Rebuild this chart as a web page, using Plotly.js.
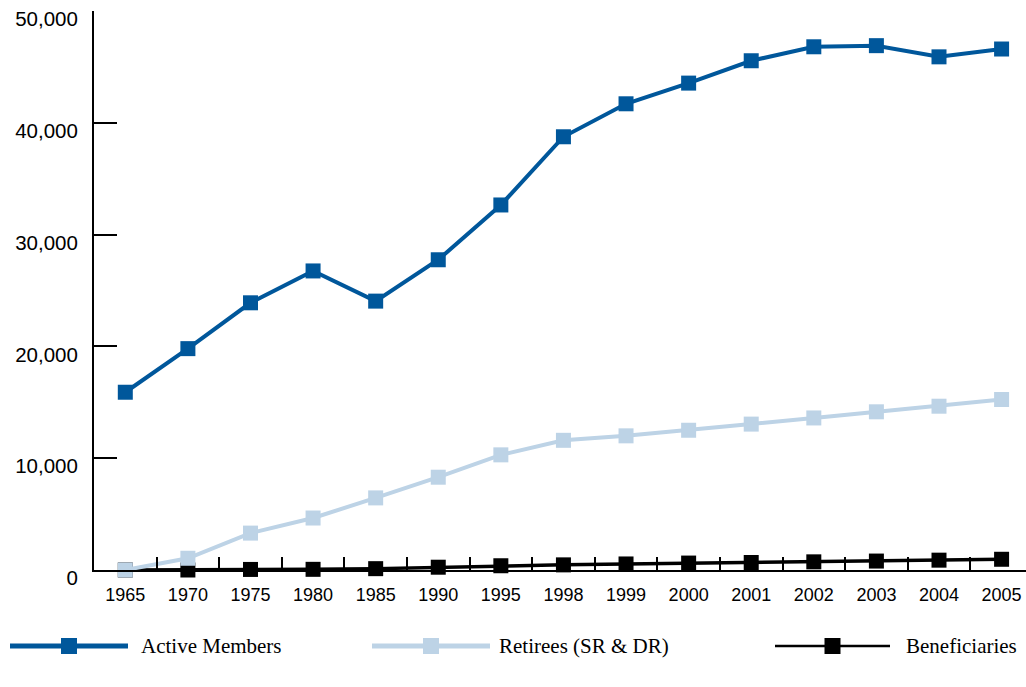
<!DOCTYPE html>
<html>
<head>
<meta charset="utf-8">
<script src="https://cdn.plot.ly/plotly-3.0.1.min.js"></script>
<style>html,body{margin:0;padding:0;background:#fff;}#chart{width:1026px;height:687px;}</style>
</head>
<body>
<div id="chart"></div>
<script>
const years = ["1965","1970","1975","1980","1985","1990","1995","1998","1999","2000","2001","2002","2003","2004","2005"];
const activeMembers = [15900,19800,23900,26750,24050,27750,32650,38750,41700,43550,45550,46800,46900,45900,46600];
const retirees = [0,1050,3300,4650,6450,8300,10300,11600,12000,12500,13050,13600,14150,14650,15250];
const beneficiaries = [0,0,50,60,120,250,380,460,540,620,670,730,800,880,960];
const seriesNames = ["Active Members","Retirees (SR & DR)","Beneficiaries"];
const yTickVals = [0,10000,20000,30000,40000,50000];
const yTickText = ["0","10,000","20,000","30,000","40,000","50,000"];

const colors = ["#00579b","#bdd3e6","#000000"];

const traces = [
  {x: years, y: beneficiaries, name: seriesNames[2], type: "scatter", mode: "lines+markers",
   line: {color: colors[2], width: 3.5}, marker: {symbol: "square", size: 15, color: colors[2]}, cliponaxis: false},
  {x: years, y: retirees, name: seriesNames[1], type: "scatter", mode: "lines+markers",
   line: {color: colors[1], width: 4}, marker: {symbol: "square", size: 15, color: colors[1]}, cliponaxis: false},
  {x: years, y: activeMembers, name: seriesNames[0], type: "scatter", mode: "lines+markers",
   line: {color: colors[0], width: 4}, marker: {symbol: "square", size: 15, color: colors[0]}, cliponaxis: false}
];

// custom legend (long line symbols), pixel positions converted to paper coords
const PL = 94, PW = 932, PT = 11, PH = 559;
const xp = v => (v - PL) / PW;
const yp = v => (PT + PH - v) / PH;
const legendItems = [
  {x0: 10, x1: 128, tx: 139, color: colors[0], w: 5, name: seriesNames[0]},
  {x0: 372, x1: 490, tx: 497, color: colors[1], w: 5, name: seriesNames[1]},
  {x0: 775, x1: 890, tx: 904, color: colors[2], w: 2.5, name: seriesNames[2]}
];
const ly = 646;
const shapes = [];
const annotations = [];
legendItems.forEach(it => {
  shapes.push({type: "line", xref: "paper", yref: "paper", x0: xp(it.x0), x1: xp(it.x1), y0: yp(ly), y1: yp(ly),
               line: {color: it.color, width: it.w}});
  const cx = (it.x0 + it.x1) / 2;
  shapes.push({type: "rect", xref: "paper", yref: "paper", x0: xp(cx - 8), x1: xp(cx + 8),
               y0: yp(ly + 8), y1: yp(ly - 8), fillcolor: it.color, line: {width: 0}});
  annotations.push({xref: "paper", yref: "paper", x: xp(it.tx), y: yp(ly), xanchor: "left", yanchor: "middle",
                    text: it.name, showarrow: false,
                    font: {family: "Liberation Serif, Times New Roman, serif", size: 21, color: "#000"}});
});

const layout = {
  width: 1026, height: 687,
  margin: {l: PL, r: 0, t: PT, b: 687 - PT - PH, pad: 0},
  paper_bgcolor: "#ffffff", plot_bgcolor: "#ffffff",
  showlegend: false,
  font: {family: "Liberation Sans, Arial, sans-serif", color: "#000"},
  xaxis: {
    type: "category", range: [-0.5, 14.39],
    showline: true, linecolor: "#000", linewidth: 2,
    ticks: "inside", ticklen: 13, tickwidth: 2, tickcolor: "#000",
    tickson: "boundaries", showgrid: false, zeroline: false,
    tickfont: {size: 18, color: "#000"}, ticklabelstandoff: 7
  },
  yaxis: {
    range: [0, 50000], tickvals: yTickVals, ticktext: yTickText,
    showline: true, linecolor: "#000", linewidth: 2,
    ticks: "inside", ticklen: 23, tickwidth: 2, tickcolor: "#000",
    showgrid: false, zeroline: false,
    tickfont: {size: 20.5, color: "#000"}, ticklabelshift: 8, ticklabelstandoff: 10
  },
  shapes: shapes,
  annotations: annotations
};

Plotly.newPlot("chart", traces, layout, {displayModeBar: false, staticPlot: true});
</script>
</body>
</html>
